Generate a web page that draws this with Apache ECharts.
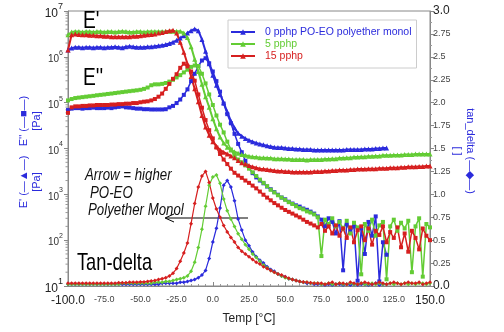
<!DOCTYPE html>
<html>
<head>
<meta charset="utf-8">
<script src="https://cdn.jsdelivr.net/npm/echarts@6/dist/echarts.min.js"></script>
<style>
  html, body { margin: 0; padding: 0; background: #fff; }
  #chart { width: 504px; height: 332px; }
</style>
</head>
<body>
<div id="chart"></div>
<script>
// Temperature sweep [°C]
const temps = [
  -100, -97.5, -95, -92.5, -90, -87.5, -85, -82.5, -80, -77.5,
  -75, -72.5, -70, -67.5, -65, -62.5, -60, -57.5, -55, -52.5,
  -50, -47.5, -45, -42.5, -40, -37.5, -35, -32.5, -30, -27.5,
  -25, -22.5, -20, -17.5, -15, -12.5, -10, -7.5, -5, -2.5,
  0, 2.5, 5, 7.5, 10, 12.5, 15, 17.5, 20, 22.5,
  25, 27.5, 30, 32.5, 35, 37.5, 40, 42.5, 45, 47.5,
  50, 52.5, 55, 57.5, 60, 62.5, 65, 67.5, 70, 72.5,
  75, 77.5, 80, 82.5, 85, 87.5, 90, 92.5, 95, 97.5,
  100, 102.5, 105, 107.5, 110, 112.5, 115, 117.5, 120, 122.5,
  125, 127.5, 130, 132.5, 135, 137.5, 140, 142.5, 145, 147.5,
  150
];

// ---- 0 pphp PO-EO polyether monol (sweep ends at 120 °C) ----
const storage0 = [
  1.41e6, 1.55e6, 1.62e6, 1.62e6, 1.58e6, 1.62e6, 1.62e6, 1.58e6, 1.62e6, 1.62e6,
  1.58e6, 1.62e6, 1.62e6, 1.66e6, 1.62e6, 1.58e6, 1.66e6, 1.70e6, 1.66e6, 1.62e6,
  1.62e6, 1.62e6, 1.66e6, 1.66e6, 1.70e6, 1.74e6, 1.78e6, 1.86e6, 1.95e6, 2.09e6,
  2.29e6, 2.57e6, 2.88e6, 3.31e6, 3.72e6, 4.07e6, 3.72e6, 2.40e6, 1.32e6, 7.08e5,
  3.98e5, 2.40e5, 1.51e5, 1.00e5, 6.31e4, 3.98e4, 2.82e4, 2.14e4, 1.86e4, 1.66e4,
  1.51e4, 1.41e4, 1.32e4, 1.26e4, 1.20e4, 1.15e4, 1.10e4, 1.07e4, 1.05e4, 1.05e4,
  1.02e4, 1.00e4, 1.00e4, 9.80e3, 9.80e3, 9.55e3, 9.55e3, 9.55e3, 9.33e3, 9.33e3,
  9.33e3, 9.33e3, 9.33e3, 9.33e3, 9.33e3, 9.33e3, 9.33e3, 9.55e3, 9.55e3, 9.55e3,
  9.55e3, 9.55e3, 9.77e3, 9.77e3, 9.77e3, 1.00e4, 1.00e4, 1.02e4, 1.02e4
];
const loss0 = [
  6.9e4, 7.4e4, 7.6e4, 7.6e4, 7.4e4, 7.6e4, 7.6e4, 7.8e4, 7.6e4, 7.6e4,
  7.6e4, 7.8e4, 7.6e4, 7.9e4, 8.1e4, 8.3e4, 7.9e4, 7.8e4, 7.6e4, 7.4e4,
  7.4e4, 7.2e4, 7.2e4, 7.1e4, 7.1e4, 7.1e4, 7.1e4, 7.2e4, 7.9e4, 8.5e4,
  9.8e4, 1.17e5, 1.48e5, 1.95e5, 2.95e5, 4.27e5, 6.31e5, 8.32e5, 9.33e5, 7.24e5,
  4.79e5, 2.95e5, 1.74e5, 9.55e4, 5.62e4, 3.55e4, 2.09e4, 1.26e4, 8.3e3, 5.4e3,
  3.8e3, 2.9e3, 2.34e3, 2.0e3, 1.74e3, 1.48e3, 1.29e3, 1.12e3, 980, 850,
  780, 690, 630, 575, 540, 490, 460, 420, 380, 330,
  280, 200, 300, 250, 140, 260, 22, 220, 160, 200,
  13, 180, 50, 250, 125, 330, 12.6, 90, 48
];
const tanDelta0 = [
  0.02, 0.02, 0.02, 0.02, 0.02, 0.02, 0.02, 0.02, 0.02, 0.02,
  0.02, 0.02, 0.02, 0.02, 0.02, 0.02, 0.02, 0.02, 0.02, 0.02,
  0.02, 0.02, 0.02, 0.02, 0.02, 0.02, 0.03, 0.03, 0.03, 0.03,
  0.03, 0.04, 0.04, 0.05, 0.06, 0.07, 0.09, 0.12, 0.17, 0.30,
  0.48, 0.63, 0.85, 1.10, 1.15, 1.08, 0.93, 0.73, 0.61, 0.50,
  0.44, 0.37, 0.32, 0.28, 0.25, 0.21, 0.18, 0.16, 0.13, 0.11,
  0.10, 0.08, 0.07, 0.06, 0.05, 0.04, 0.03, 0.03, 0.02, 0.02,
  0.02, 0.01, 0.02, 0.01, 0.02, 0.02, 0.01, 0.02, 0.01, 0.02,
  0.01, 0.02, 0.02, 0.01, 0.02, 0.03, 0.01, 0.02, 0.02
];

// ---- 5 pphp ----
const storage5 = [
  3.02e6, 3.47e6, 3.55e6, 3.55e6, 3.47e6, 3.55e6, 3.55e6, 3.47e6, 3.55e6, 3.55e6,
  3.47e6, 3.55e6, 3.55e6, 3.47e6, 3.55e6, 3.63e6, 3.55e6, 3.47e6, 3.47e6, 3.55e6,
  3.55e6, 3.47e6, 3.55e6, 3.55e6, 3.55e6, 3.55e6, 3.55e6, 3.55e6, 3.63e6, 3.63e6,
  3.63e6, 3.63e6, 3.31e6, 2.63e6, 1.66e6, 8.9e5, 4.79e5, 2.51e5, 1.35e5, 7.94e4,
  4.47e4, 2.69e4, 1.78e4, 1.32e4, 1.07e4, 9.3e3, 8.5e3, 7.9e3, 7.4e3, 7.1e3,
  6.8e3, 6.6e3, 6.5e3, 6.3e3, 6.3e3, 6.2e3, 6.2e3, 6.0e3, 6.0e3, 6.0e3,
  5.9e3, 5.9e3, 5.75e3, 5.75e3, 5.75e3, 5.75e3, 5.6e3, 5.75e3, 5.75e3, 5.75e3,
  5.75e3, 5.9e3, 5.9e3, 6.0e3, 6.0e3, 6.2e3, 6.2e3, 6.3e3, 6.3e3, 6.5e3,
  6.5e3, 6.6e3, 6.6e3, 6.8e3, 6.8e3, 6.9e3, 6.9e3, 7.1e3, 7.1e3, 7.1e3,
  7.2e3, 7.2e3, 7.2e3, 7.4e3, 7.4e3, 7.4e3, 7.6e3, 7.6e3, 7.6e3, 7.6e3,
  7.6e3
];
const loss5 = [
  1.12e5, 1.20e5, 1.26e5, 1.29e5, 1.32e5, 1.35e5, 1.38e5, 1.41e5, 1.45e5, 1.48e5,
  1.51e5, 1.55e5, 1.58e5, 1.62e5, 1.66e5, 1.70e5, 1.74e5, 1.78e5, 1.82e5, 1.86e5,
  1.91e5, 2.00e5, 2.14e5, 2.40e5, 2.51e5, 2.51e5, 2.57e5, 2.69e5, 2.88e5, 3.16e5,
  3.55e5, 3.98e5, 4.57e5, 5.25e5, 6.03e5, 6.46e5, 6.31e5, 4.27e5, 2.63e5, 1.51e5,
  8.9e4, 5.25e4, 3.31e4, 2.24e4, 1.41e4, 9.5e3, 6.9e3, 5.75e3, 5.0e3, 4.27e3,
  3.63e3, 3.02e3, 2.51e3, 2.09e3, 1.78e3, 1.51e3, 1.26e3, 1.10e3, 955, 850,
  760, 675, 615, 550, 500, 470, 425, 400, 365, 316,
  45, 280, 225, 300, 200, 250, 180, 265, 140, 240,
  190, 18, 225, 160, 280, 125, 210, 250, 14, 200,
  280, 160, 240, 180, 265, 20, 200, 300, 16, 225,
  190
];
const tanDelta5 = [
  0.02, 0.02, 0.02, 0.02, 0.02, 0.02, 0.02, 0.02, 0.02, 0.02,
  0.02, 0.02, 0.02, 0.02, 0.02, 0.03, 0.03, 0.03, 0.03, 0.03,
  0.03, 0.03, 0.03, 0.03, 0.04, 0.04, 0.04, 0.05, 0.05, 0.06,
  0.07, 0.08, 0.09, 0.11, 0.16, 0.26, 0.42, 0.62, 0.87, 1.10,
  1.19, 1.21, 1.12, 0.95, 0.82, 0.73, 0.65, 0.57, 0.51, 0.45,
  0.40, 0.35, 0.31, 0.27, 0.23, 0.20, 0.17, 0.15, 0.13, 0.11,
  0.09, 0.08, 0.07, 0.06, 0.05, 0.04, 0.04, 0.03, 0.03, 0.03,
  0.02, 0.02, 0.03, 0.02, 0.02, 0.03, 0.02, 0.02, 0.03, 0.02,
  0.02, 0.03, 0.02, 0.02, 0.03, 0.02, 0.03, 0.02, 0.02, 0.03,
  0.02, 0.03, 0.02, 0.03, 0.02, 0.03, 0.02, 0.03, 0.03, 0.02,
  0.03
];

// ---- 15 pphp ----
const storage15 = [
  1.41e6, 3.02e6, 3.16e6, 3.09e6, 3.02e6, 3.02e6, 2.95e6, 2.95e6, 2.88e6, 2.88e6,
  2.82e6, 2.82e6, 2.75e6, 2.75e6, 2.75e6, 2.75e6, 2.75e6, 2.75e6, 2.82e6, 2.82e6,
  2.88e6, 2.95e6, 3.02e6, 3.09e6, 3.16e6, 3.31e6, 3.39e6, 3.55e6, 3.72e6, 3.80e6,
  3.31e6, 2.09e6, 1.26e6, 7.08e5, 3.72e5, 2.00e5, 1.05e5, 5.25e4, 2.95e4, 1.95e4,
  1.41e4, 1.12e4, 9.3e3, 8.3e3, 7.6e3, 6.9e3, 6.3e3, 5.5e3, 4.9e3, 4.6e3,
  4.27e3, 3.98e3, 3.80e3, 3.63e3, 3.55e3, 3.47e3, 3.39e3, 3.31e3, 3.24e3, 3.24e3,
  3.16e3, 3.16e3, 3.09e3, 3.09e3, 3.09e3, 3.09e3, 3.09e3, 3.09e3, 3.16e3, 3.16e3,
  3.16e3, 3.24e3, 3.24e3, 3.31e3, 3.31e3, 3.39e3, 3.39e3, 3.39e3, 3.47e3, 3.47e3,
  3.55e3, 3.55e3, 3.55e3, 3.63e3, 3.63e3, 3.63e3, 3.72e3, 3.72e3, 3.72e3, 3.80e3,
  3.80e3, 3.80e3, 3.89e3, 3.89e3, 3.98e3, 3.98e3, 3.98e3, 4.07e3, 4.07e3, 4.17e3,
  4.17e3
];
const loss15 = [
  6.0e4, 7.9e4, 8.3e4, 8.3e4, 8.5e4, 8.5e4, 8.7e4, 8.7e4, 8.9e4, 8.9e4,
  8.9e4, 8.9e4, 9.1e4, 9.1e4, 9.3e4, 9.3e4, 9.5e4, 9.5e4, 9.8e4, 9.8e4,
  1.02e5, 1.05e5, 1.07e5, 1.12e5, 1.20e5, 1.35e5, 1.58e5, 2.00e5, 2.57e5, 3.31e5,
  4.17e5, 5.75e5, 7.08e5, 6.17e5, 4.79e5, 3.02e5, 1.51e5, 7.76e4, 4.17e4, 2.51e4,
  1.66e4, 1.05e4, 7.6e3, 5.75e3, 4.57e3, 3.63e3, 2.95e3, 2.57e3, 2.29e3, 2.00e3,
  1.78e3, 1.55e3, 1.35e3, 1.15e3, 980, 850, 740, 645, 575, 510,
  455, 415, 380, 345, 315, 280, 250, 230, 210, 190,
  225, 160, 200, 140, 210, 125, 180, 112, 190, 90,
  165, 200, 100, 180, 80, 160, 130, 200, 90, 150,
  112, 190, 70, 140, 56, 160, 112, 63, 180, 125,
  100
];
const tanDelta15 = [
  0.03, 0.03, 0.03, 0.03, 0.03, 0.03, 0.03, 0.03, 0.03, 0.03,
  0.03, 0.03, 0.03, 0.03, 0.035, 0.035, 0.035, 0.04, 0.04, 0.04,
  0.045, 0.045, 0.05, 0.055, 0.06, 0.07, 0.08, 0.09, 0.11, 0.14,
  0.19, 0.27, 0.36, 0.47, 0.68, 0.90, 1.08, 1.20, 1.25, 1.13,
  0.96, 0.84, 0.75, 0.66, 0.59, 0.53, 0.48, 0.42, 0.38, 0.35,
  0.32, 0.29, 0.26, 0.24, 0.21, 0.19, 0.17, 0.15, 0.13, 0.12,
  0.10, 0.085, 0.07, 0.06, 0.05, 0.045, 0.04, 0.035, 0.03, 0.03,
  0.03, 0.02, 0.03, 0.04, 0.02, 0.03, 0.03, 0.02, 0.04, 0.03,
  0.02, 0.03, 0.04, 0.03, 0.02, 0.03, 0.04, 0.03, 0.02, 0.03,
  0.04, 0.03, 0.02, 0.03, 0.04, 0.03, 0.03, 0.04, 0.02, 0.03,
  0.04
];

// Tick labels
const tempLabels = ['-100.0', '-75.0', '-50.0', '-25.0', '0.0', '25.0', '50.0', '75.0', '100.0', '125.0', '150.0'];
const tanLabels = ['0.0', '0.25', '0.5', '0.75', '1.0', '1.25', '1.5', '1.75', '2.0', '2.25', '2.5', '2.75', '3.0'];
const modulusExponents = [1, 2, 3, 4, 5, 6, 7];
const minorMantissas = [2, 3, 4, 5, 6, 7, 8, 9];

const sampleNames = ['0 pphp PO-EO polyether monol', '5 pphp', '15 pphp'];
const sampleColors = ['#2b2bdc', '#63cc34', '#d61f1f'];

const FONT = '"Liberation Sans", Arial, sans-serif';

function pairs(values) {
  return values.map((v, i) => [temps[i], v]);
}

function lineSeries(name, values, color, symbol, size, width, yAxisIndex) {
  return {
    name: name,
    type: 'line',
    xAxisIndex: 0,
    yAxisIndex: yAxisIndex,
    data: pairs(values),
    symbol: symbol,
    symbolSize: size,
    showSymbol: true,
    lineStyle: { color: color, width: width },
    itemStyle: { color: color },
    emphasis: { disabled: true },
    animation: false
  };
}

const samples = [
  [storage0, loss0, tanDelta0],
  [storage5, loss5, tanDelta5],
  [storage15, loss15, tanDelta15]
];

const series = [];
samples.forEach((s, k) => {
  const c = sampleColors[k];
  series.push(lineSeries(sampleNames[k], s[0], c, 'triangle', 5, 2, 0));
  series.push(lineSeries(sampleNames[k] + " E''", s[1], c, 'rect', 4, 1.5, 0));
  series.push(lineSeries(sampleNames[k] + ' tan_delta', s[2], c, 'diamond', 4, 1.2, 1));
});

// Logarithmic minor ticks (2..9 x 10^n) on the modulus axis, placed through the axis scale
const minorTickValues = [];
modulusExponents.slice(0, -1).forEach(e => {
  minorMantissas.forEach(m => minorTickValues.push([-100, m * Math.pow(10, e)]));
});
series.push({
  name: 'log minor ticks',
  type: 'custom',
  xAxisIndex: 0,
  yAxisIndex: 0,
  silent: true,
  clip: false,
  data: minorTickValues,
  renderItem: function (params, api) {
    const p = api.coord([api.value(0), api.value(1)]);
    return {
      type: 'line',
      shape: { x1: p[0] - 2.5, y1: p[1], x2: p[0], y2: p[1] },
      style: { stroke: '#999', lineWidth: 1 }
    };
  },
  z: 1
});

const chart = echarts.init(document.getElementById('chart'), null, { renderer: 'canvas' });

chart.setOption({
  animation: false,
  backgroundColor: '#fff',
  textStyle: { fontFamily: FONT },
  grid: {
    left: 68, right: 74, top: 11, bottom: 46,
    show: true, borderColor: '#888', borderWidth: 1, backgroundColor: 'transparent'
  },
  legend: {
    data: sampleNames.map((n, k) => ({ name: n, textStyle: { color: sampleColors[k] } })),
    orient: 'vertical',
    left: 228, top: 20,
    itemWidth: 24, itemHeight: 7, itemGap: 0,
    padding: [6, 5, 6, 2],
    backgroundColor: '#fff',
    borderColor: '#ccc', borderWidth: 1,
    textStyle: { fontSize: 10.5, lineHeight: 12, fontFamily: FONT, padding: [0, 0, 0, 5] },
    selectedMode: false
  },
  xAxis: {
    type: 'value',
    min: -100, max: 150, interval: 25,
    name: 'Temp [°C]',
    nameLocation: 'middle', nameGap: 27,
    nameTextStyle: { fontSize: 12, color: '#222', fontFamily: FONT },
    axisLine: { onZero: false, lineStyle: { color: '#888' } },
    axisTick: { inside: true, length: 4, lineStyle: { color: '#888' } },
    minorTick: { show: true, splitNumber: 5, length: 2, lineStyle: { color: '#999' } },
    splitLine: { show: false },
    axisLabel: {
      margin: 9,
      formatter: function (v) {
        const i = Math.round((v + 100) / 25);
        const t = tempLabels[i];
        return (i === 0 || i === tempLabels.length - 1) ? '{big|' + t + '}' : '{sm|' + t + '}';
      },
      rich: {
        big: { fontSize: 12, color: '#222', fontFamily: FONT },
        sm: { fontSize: 9, color: '#444', fontFamily: FONT }
      }
    }
  },
  yAxis: [
    {
      type: 'log', logBase: 10, min: 10, max: 1e7, splitNumber: 6,
      position: 'left',
      axisLine: { show: true, onZero: false, lineStyle: { color: '#888' } },
      axisTick: { show: true, length: 4, lineStyle: { color: '#888' } },
      minorTick: { show: false },
      splitLine: { show: false },
      axisLabel: {
        margin: 5,
        formatter: function (v) {
          const e = Math.round(Math.log10(v));
          const big = (e === modulusExponents[0] || e === modulusExponents[modulusExponents.length - 1]);
          return big ? '{bb|10}{bs|' + e + '}' : '{b|10}{s|' + e + '}';
        },
        rich: {
          b: { fontSize: 10, color: '#333', lineHeight: 15, verticalAlign: 'bottom', fontFamily: FONT },
          s: { fontSize: 7, color: '#333', lineHeight: 15, verticalAlign: 'top', fontFamily: FONT },
          bb: { fontSize: 12, color: '#222', lineHeight: 17, verticalAlign: 'bottom', fontFamily: FONT },
          bs: { fontSize: 9, color: '#222', lineHeight: 17, verticalAlign: 'top', fontFamily: FONT }
        }
      }
    },
    {
      type: 'value', min: 0, max: 3, interval: 0.25, position: 'right',
      axisLine: { show: true, onZero: false, lineStyle: { color: '#888' } },
      axisTick: { show: true, length: 4, lineStyle: { color: '#888' } },
      minorTick: { show: true, splitNumber: 2, length: 2, lineStyle: { color: '#999' } },
      splitLine: { show: false },
      axisLabel: {
        margin: 3,
        formatter: function (v) {
          const i = Math.round(v / 0.25);
          const t = tanLabels[i];
          return (i === 0 || i === tanLabels.length - 1) ? '{big|' + t + '}' : '{sm|' + t + '}';
        },
        rich: {
          big: { fontSize: 12, color: '#222', fontFamily: FONT },
          sm: { fontSize: 9, color: '#444', fontFamily: FONT }
        }
      }
    }
  ],
  series: series,
  graphic: [
    { type: 'text', x: 83, y: 9, scaleX: 0.8, style: { text: "E'", font: '24px ' + FONT, fill: '#000' } },
    { type: 'text', x: 83, y: 66, scaleX: 0.8, style: { text: "E''", font: '24px ' + FONT, fill: '#000' } },
    { type: 'text', x: 77, y: 251, scaleX: 0.76, style: { text: 'Tan-delta', font: '24px ' + FONT, fill: '#000' } },
    { type: 'text', x: 85, y: 167, scaleX: 0.78, style: { text: 'Arrow = higher', font: 'italic 17px ' + FONT, fill: '#111' } },
    { type: 'text', x: 90, y: 185, scaleX: 0.78, style: { text: 'PO-EO', font: 'italic 17px ' + FONT, fill: '#111' } },
    { type: 'text', x: 88, y: 202, scaleX: 0.78, style: { text: 'Polyether Monol', font: 'italic 17px ' + FONT, fill: '#111' } },
    { type: 'line', shape: { x1: 248, y1: 218, x2: 166, y2: 218 }, style: { stroke: '#000', lineWidth: 1 } },
    { type: 'polyline', shape: { points: [[174, 214], [165, 218], [174, 222]] }, style: { stroke: '#000', lineWidth: 1, fill: null } },
    {
      type: 'text', x: 30, y: 121, rotation: Math.PI / 2,
      style: { text: "E'' (—■—)\n[Pa]", align: 'center', verticalAlign: 'middle', lineHeight: 13, font: '11px ' + FONT, fill: '#2b2bdc' }
    },
    {
      type: 'text', x: 30, y: 182, rotation: Math.PI / 2,
      style: { text: "E' (—▲—)\n[Pa]", align: 'center', verticalAlign: 'middle', lineHeight: 13, font: '11px ' + FONT, fill: '#2b2bdc' }
    },
    {
      type: 'text', x: 464, y: 151, rotation: -Math.PI / 2,
      style: { text: 'tan_delta (—◆—)\n[ ]', align: 'center', verticalAlign: 'middle', lineHeight: 13, font: '11px ' + FONT, fill: '#2b2bdc' }
    }
  ]
});
</script>
</body>
</html>
